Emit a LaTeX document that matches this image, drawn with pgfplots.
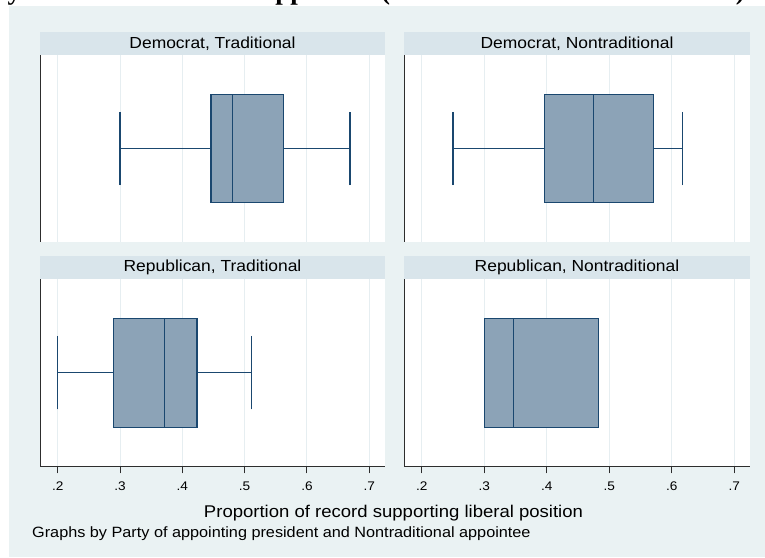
\documentclass[border=0pt]{standalone}
\usepackage{pgfplots}
\pgfplotsset{compat=1.18}
\usepgfplotslibrary{statistics}
\usepackage{fontspec}
\setmainfont{Liberation Sans}[FakeStretch=1.09]
\newfontfamily\titlefont{Liberation Serif}

\definecolor{stnavy}{RGB}{26,71,111}
\definecolor{bgc}{RGB}{234,242,243}
\definecolor{hdrc}{RGB}{217,229,235}
\definecolor{gridc}{RGB}{230,238,241}
\definecolor{axisc}{RGB}{45,45,45}

\pgfplotsset{
  panel/.style={
    scale only axis,
    anchor=south west,
    xmin=0.1716, xmax=0.7253, ymin=0, ymax=1,
    axis x line*=bottom, axis y line*=left,
    ytick=\empty,
    xtick={0.2,0.3,0.4,0.5,0.6,0.7},
    xticklabels={.2,.3,.4,.5,.6,.7},
    xmajorgrids,
    major grid style={color=gridc, line width=1bp},
    axis line style={color=axisc, line width=1bp},
    xtick style={color=axisc, line width=1bp},
    tick align=outside,
    major tick length=7bp,
    axis background/.style={fill=white},
    /pgf/number format/assume math mode=true,
    xticklabel style={font=\fontsize{12.5bp}{14bp}\selectfont, yshift=-5bp},
  },
  toprow/.style={
    xticklabels={},
    xtick style={draw=none},
    major tick length=0pt,
    x axis line style={draw=none},
  },
  sbox/.style={
    boxplot/draw direction=x,
    boxplot/draw position=0.5,
    boxplot/box extend=0.58,
    boxplot/whisker extend=0.392,
    draw=stnavy, fill=stnavy!50, line width=1.2bp, solid, mark=none,
  },
}

\begin{document}
\begin{tikzpicture}[x=1bp, y=1bp]
  % white page and light graph region
  \fill[white] (0,0) rectangle (765,558);
  \fill[bgc] (9,1) rectangle (765,552);

  % title, mostly above the page edge
  \node[anchor=base east, inner sep=0pt, font=\titlefont\bfseries\fontsize{27bp}{30bp}\selectfont]
    at (745,558) {Liberal Voting by Party and Nontraditional Appointee (Women and Racial Minorities)};

  % panel header strips
  \fill[hdrc] (40,503) rectangle (385,526);
  \fill[hdrc] (404,503) rectangle (750,526);
  \fill[hdrc] (40,279) rectangle (385,302);
  \fill[hdrc] (404,279) rectangle (750,302);
  \begin{scope}[every node/.style={font=\fontsize{16bp}{18bp}\selectfont, inner sep=0pt}]
    \node at (212.5,514.5) {Democrat, Traditional};
    \node at (577,514.5) {Democrat, Nontraditional};
    \node at (212.5,290.5) {Republican, Traditional};
    \node at (577,290.5) {Republican, Nontraditional};
  \end{scope}

  % Democrat, Traditional
  \begin{axis}[panel, toprow, at={(40bp,316bp)}, width=345bp, height=187bp]
    \addplot[sbox, boxplot prepared={lower whisker=0.300, lower quartile=0.446,
      median=0.480, upper quartile=0.562, upper whisker=0.669}] coordinates {};
  \end{axis}

  % Democrat, Nontraditional
  \begin{axis}[panel, toprow, at={(404bp,316bp)}, width=346bp, height=187bp]
    \addplot[sbox, boxplot prepared={lower whisker=0.250, lower quartile=0.397,
      median=0.475, upper quartile=0.571, upper whisker=0.617}] coordinates {};
  \end{axis}

  % Republican, Traditional
  \begin{axis}[panel, at={(40bp,91.5bp)}, width=345bp, height=187.5bp]
    \addplot[sbox, boxplot prepared={lower whisker=0.200, lower quartile=0.290,
      median=0.371, upper quartile=0.4235, upper whisker=0.511}] coordinates {};
  \end{axis}

  % Republican, Nontraditional
  \begin{axis}[panel, at={(404bp,91.5bp)}, width=346bp, height=187.5bp]
    \addplot[sbox, boxplot prepared={lower whisker=0.300, lower quartile=0.300,
      median=0.347, upper quartile=0.483, upper whisker=0.483}] coordinates {};
  \end{axis}

  % axis title and note
  \node[inner sep=0pt, font=\fontsize{17bp}{19bp}\selectfont] at (393.5,45)
    {Proportion of record supporting liberal position};
  \node[anchor=west, inner sep=0pt, font=\fontsize{14.9bp}{17bp}\selectfont] at (32,24)
    {Graphs by Party of appointing president and Nontraditional appointee};

  \pgfresetboundingbox
  \useasboundingbox (0,0) rectangle (765,558);
\end{tikzpicture}
\end{document}
